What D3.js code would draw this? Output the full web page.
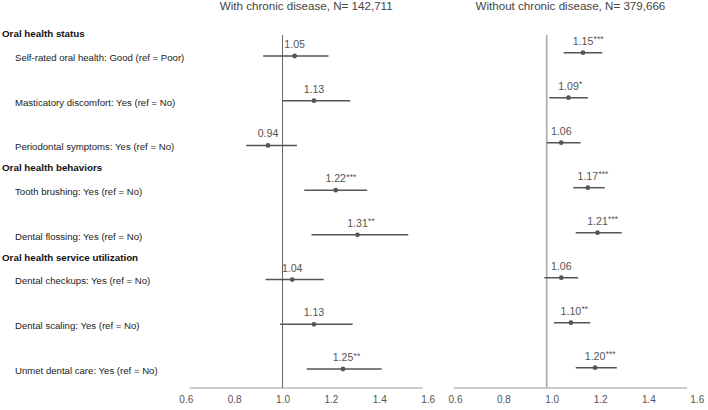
<!DOCTYPE html>
<html><head><meta charset="utf-8">
<script src="https://cdn.jsdelivr.net/npm/d3@7"></script>
<style>
html,body{margin:0;padding:0;background:#fff;}
svg{display:block;font-family:"Liberation Sans",Arial,Helvetica,sans-serif;}
</style></head>
<body><svg id="chart" width="708" height="410"></svg>
<script>
// ---- data ----
const groups = ["Oral health status", "Oral health behaviors", "Oral health service utilization"];
const items = [
  "Self-rated oral health: Good (ref = Poor)",
  "Masticatory discomfort: Yes (ref = No)",
  "Periodontal symptoms: Yes (ref = No)",
  "Tooth brushing: Yes (ref = No)",
  "Dental flossing: Yes (ref = No)",
  "Dental checkups: Yes (ref = No)",
  "Dental scaling: Yes (ref = No)",
  "Unmet dental care: Yes (ref = No)"
];
const itemGroup = [0, 0, 0, 1, 1, 2, 2, 2];
const panelTitles = ["With chronic disease, N= 142,711", "Without chronic disease, N= 379,666"];
const withOR  = [1.05, 1.13, 0.94, 1.22, 1.31, 1.04, 1.13, 1.25];
const withLo  = [0.92, 1.00, 0.85, 1.09, 1.12, 0.93, 0.99, 1.10];
const withHi  = [1.19, 1.28, 1.06, 1.35, 1.52, 1.17, 1.29, 1.41];
const withSig = ["", "", "", "***", "**", "", "", "**"];
const withoutOR  = [1.15, 1.09, 1.06, 1.17, 1.21, 1.06, 1.10, 1.20];
const withoutLo  = [1.07, 1.01, 1.00, 1.11, 1.12, 0.99, 1.03, 1.12];
const withoutHi  = [1.23, 1.17, 1.14, 1.24, 1.31, 1.13, 1.18, 1.29];
const withoutSig = ["***", "*", "", "***", "***", "", "**", "***"];
const tickValues = [0.6, 0.8, 1.0, 1.2, 1.4, 1.6];
const refValue = 1.0;

// ---- layout ----
const svg = d3.select("#chart");
const axisY = 388;
const refTop = 35;
const panels = [
  {title: panelTitles[0], or: withOR, lo: withLo, hi: withHi, sig: withSig,
   range: [185.8, 427.6], rows: [56, 369], labelShift: 0, refColor: "#666", refWidth: 1},
  {title: panelTitles[1], or: withoutOR, lo: withoutLo, hi: withoutHi, sig: withoutSig,
   range: [450.0, 691.8], rows: [52.7, 367.7], labelShift: 5, refColor: "#aaa", refWidth: 1.6}
];
const axisExtent = [0.616, 1.58];

// left labels
const yLabel = d3.scalePoint().domain(d3.range(items.length)).range([56, 369]);
const firstIdx = groups.map((g, gi) => itemGroup.indexOf(gi));
svg.append("g").selectAll("text.grp").data(groups).join("text")
  .attr("x", 2)
  .attr("y", (d, i) => yLabel(firstIdx[i]) - 22.5)
  .attr("dy", "0.35em")
  .attr("font-size", 9.8).attr("font-weight", "bold").attr("fill", "#111")
  .text(d => d);
svg.append("g").selectAll("text.item").data(items).join("text")
  .attr("x", 15)
  .attr("y", (d, i) => yLabel(i) + 1.5)
  .attr("dy", "0.35em")
  .attr("font-size", 9.6).attr("fill", "#222")
  .text(d => d);

panels.forEach(p => {
  const x = d3.scaleLinear().domain([0.6, 1.6]).range(p.range);
  const y = d3.scalePoint().domain(d3.range(items.length)).range(p.rows);
  const g = svg.append("g");

  // title
  g.append("text")
    .attr("x", (x(axisExtent[0]) + x(axisExtent[1])) / 2)
    .attr("y", 10)
    .attr("text-anchor", "middle")
    .attr("font-size", 11.6).attr("fill", "#444")
    .text(p.title);

  // axis line
  g.append("line")
    .attr("x1", x(axisExtent[0])).attr("x2", x(axisExtent[1]))
    .attr("y1", axisY).attr("y2", axisY)
    .attr("stroke", "#bdbdbd").attr("stroke-width", 1.6);

  // tick labels
  const ax = g.append("g")
    .attr("transform", `translate(${p.labelShift},${axisY + 5})`)
    .call(d3.axisBottom(x).tickValues(tickValues).tickSize(0).tickFormat(d3.format(".1f")));
  ax.select(".domain").remove();
  ax.selectAll("text").attr("font-size", 10).attr("fill", "#555")
    .attr("font-family", "'Liberation Sans',Arial,sans-serif");

  // reference line
  g.append("line")
    .attr("x1", x(refValue)).attr("x2", x(refValue))
    .attr("y1", refTop).attr("y2", axisY)
    .attr("stroke", p.refColor).attr("stroke-width", p.refWidth);

  const idx = d3.range(items.length);
  // CI lines
  g.selectAll("line.ci").data(idx).join("line")
    .attr("x1", i => x(p.lo[i])).attr("x2", i => x(p.hi[i]))
    .attr("y1", i => y(i)).attr("y2", i => y(i))
    .attr("stroke", "#555").attr("stroke-width", 1.5);
  // points
  g.selectAll("circle.pt").data(idx).join("circle")
    .attr("cx", i => x(p.or[i])).attr("cy", i => y(i)).attr("r", 2.4)
    .attr("fill", "#555");
  // labels
  idx.forEach(i => {
    const t = g.append("text")
      .attr("x", x(p.or[i])).attr("y", y(i) - 8)
      .attr("text-anchor", "middle")
      .attr("font-size", 10.6).attr("fill", "#555")
      .text(p.or[i].toFixed(2));
    const w = t.node().getComputedTextLength();
    if (p.sig[i]) {
      g.append("text")
        .attr("x", x(p.or[i]) + w / 2 + 0.3).attr("y", y(i) - 10.5)
        .attr("font-size", 8.5).attr("fill", "#555")
        .text(p.sig[i]);
    }
  });
});
</script></body></html>
